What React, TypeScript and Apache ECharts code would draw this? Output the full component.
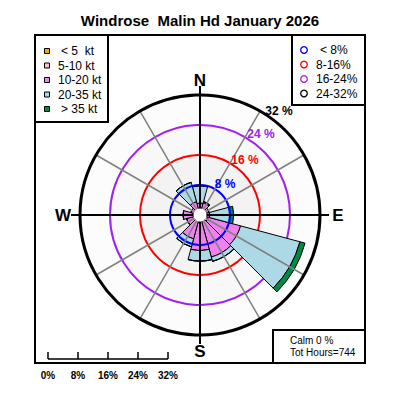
import React, { useEffect, useRef } from "react";
import * as echarts from "echarts";

// 12 direction sectors, centred at 0, 30, ..., 330 degrees
const directions = ["N", "NNE", "ENE", "E", "ESE", "SSE", "S", "SSW", "WSW", "W", "WNW", "NNW"];
const speedClasses = ["< 5  kt", "5-10 kt", "10-20 kt", "20-35 kt", "> 35 kt"];
const speedColors = ["#FFA500", "#FFC0CB", "#EE82EE", "#ADD8E6", "#008B45"];
// frequency (%) per speed class, per direction
const lt5 = [0.2, 0.2, 0.2, 0.3, 0.3, 0.3, 0.3, 0.3, 0.2, 0.3, 0.2, 0.2];
const s5to10 = [1.0, 1.2, 0.9, 0.8, 2.0, 1.5, 1.5, 1.2, 1.0, 1.5, 0.8, 1.0];
const s10to20 = [2.0, 2.0, 1.4, 1.5, 8.9, 9.8, 7.7, 5.1, 2.5, 2.7, 1.5, 2.5];
const s20to35 = [4.6, 0.3, 0.0, 5.4, 16.4, 1.2, 2.8, 2.2, 0.0, 0.0, 0.0, 5.3];
const gt35 = [0.0, 0.0, 0.0, 1.0, 1.4, 0.0, 0.0, 0.0, 0.0, 0.0, 0.0, 0.0];
const classData = [lt5, s5to10, s10to20, s20to35, gt35];

const ringValues = [8, 16, 24, 32];
const ringLabels = ["8 %", "16 %", "24 %", "32 %"];
const ringColors = ["#0000FF", "#FF0000", "#A020F0", "#000000"];
const ringLegend = ["< 8%", "8-16%", "16-24%", "24-32%"];
const scaleLabels = ["0%", "8%", "16%", "24%", "32%"];
const scaleValues = [0, 8, 16, 24, 32];
const compass = ["N", "E", "S", "W"];
const titleText = "Windrose  Malin Hd January 2026";
const calmText = "Calm 0 %";
const hoursText = "Tot Hours=744";

const FONT = "'Liberation Sans', Arial, Helvetica, sans-serif";
const CX = 200;
const CY = 215;
const R = 120;
const MAXV = ringValues[ringValues.length - 1];
const T = "rgba(0,0,0,0)";

export default function App() {
  const ref = useRef<HTMLDivElement>(null);
  useEffect(() => {
    if (!ref.current) return;
    const chart = echarts.init(ref.current, undefined, { renderer: "svg" });
    const pxPerPct = R / MAXV;

    const graphic: any[] = [];
    const txt = (text: string, x: number, y: number, size: number, color = "#000", bold = false, align = "center") => {
      graphic.push({
        type: "text",
        x,
        y,
        z: 110,
        style: {
          text,
          fill: color,
          fontSize: size,
          fontWeight: bold ? "bold" : "normal",
          fontFamily: FONT,
          align,
          verticalAlign: "middle",
        },
      });
    };
    // frame
    graphic.push({ type: "rect", z: 100, shape: { x: 35, y: 35, width: 330, height: 328 }, style: { fill: "none", stroke: "#000", lineWidth: 2 } });
    // title
    txt(titleText, 200, 20, 15, "#000", true);
    // speed legend box
    graphic.push({ type: "rect", z: 100, shape: { x: 35, y: 35, width: 73, height: 87 }, style: { fill: "#fff", stroke: "#000", lineWidth: 2 } });
    speedClasses.forEach((s, i) => {
      const y = 51 + i * 14.5;
      graphic.push({ type: "rect", z: 110, shape: { x: 44.5, y: y - 2.5, width: 5, height: 5 }, style: { fill: speedColors[i], stroke: "#000", lineWidth: 1 } });
      const x = s.startsWith("<") || s.startsWith(">") ? 61 : 58;
      txt(s, x, y, 12, "#000", false, "left");
    });
    // ring legend box
    graphic.push({ type: "rect", z: 100, shape: { x: 292, y: 35, width: 73, height: 70 }, style: { fill: "#fff", stroke: "#000", lineWidth: 2 } });
    ringLegend.forEach((s, i) => {
      const y = 50 + i * 14.5;
      graphic.push({ type: "circle", z: 110, shape: { cx: 304, cy: y, r: 3.3 }, style: { fill: "none", stroke: ringColors[i], lineWidth: 1.3 } });
      txt(s, i === 0 ? 320 : 316, y, 12, "#000", false, "left");
    });
    // calm box
    graphic.push({ type: "rect", z: 100, shape: { x: 273, y: 330, width: 92, height: 33 }, style: { fill: "#fff", stroke: "#000", lineWidth: 2 } });
    txt(calmText, 290, 340, 10, "#000", false, "left");
    txt(hoursText, 290, 352, 10, "#000", false, "left");
    // compass letters
    const offs: Record<string, [number, number]> = { N: [0, -135], E: [138, 0], S: [0, 136], W: [-137, 0] };
    compass.forEach((c) => txt(c, CX + offs[c][0], CY + offs[c][1], 17, "#000", true));
    // ring labels
    const ringPos: [number, number][] = [[25, -31], [45, -55], [61, -81], [79, -104]];
    ringLabels.forEach((l, i) => txt(l, CX + ringPos[i][0], CY + ringPos[i][1], 12, ringColors[i], true));
    // scale bar
    const x0 = 48;
    const yBase = 359;
    graphic.push({ type: "line", z: 110, shape: { x1: x0, y1: yBase, x2: x0 + MAXV * pxPerPct, y2: yBase }, style: { stroke: "#000", lineWidth: 1.5 } });
    scaleValues.forEach((v, i) => {
      const x = x0 + v * pxPerPct;
      graphic.push({ type: "line", z: 110, shape: { x1: x, y1: yBase, x2: x, y2: yBase - 7 }, style: { stroke: "#000", lineWidth: 1.5 } });
      txt(scaleLabels[i], x, 375, 10, "#000", true);
    });
    // center hole
    graphic.push({ type: "circle", z: 100, shape: { cx: CX, cy: CY, r: 6.5 }, style: { fill: "#fff", stroke: "none" } });

    const hidden = { axisLine: { show: false }, axisTick: { show: false }, axisLabel: { show: false } };
    const solid = (color: any, width: number) => ({ show: true, lineStyle: { color, width, type: "solid", opacity: 1 } });

    chart.setOption({
      animation: false,
      backgroundColor: "#fff",
      polar: [
        { center: [CX, CY], radius: R },
        { center: [CX, CY], radius: R },
        { center: [CX, CY], radius: 129 },
        { center: [CX, CY], radius: R },
      ],
      angleAxis: [
        { polarIndex: 0, type: "category", data: directions, startAngle: 105, clockwise: true, boundaryGap: true, ...hidden, splitLine: { show: false }, splitArea: { show: false }, z: 0 },
        {
          polarIndex: 1, type: "value", min: 0, max: 360, interval: 30, startAngle: 90, clockwise: true,
          axisLine: solid("#000", 3), axisTick: { show: false }, axisLabel: { show: false },
          splitLine: solid("#808080", 1.5), z: 5,
        },
        {
          polarIndex: 2, type: "value", min: 0, max: 360, interval: 90, startAngle: 90, clockwise: true, ...hidden,
          splitLine: solid("#000", 2), z: 6,
        },
        {
          polarIndex: 3, type: "value", min: 0, max: 360, startAngle: 90, clockwise: true, ...hidden,
          splitLine: { show: false }, z: 1,
        },
      ],
      radiusAxis: [
        {
          polarIndex: 0, type: "value", min: 0, max: MAXV, interval: 8, ...hidden,
          splitLine: { show: false },
          splitArea: { show: true, areaStyle: { color: ["#ececec", "#f3f3f3", "#f8f8f8", "#fcfcfc"] } },
          z: 0,
        },
        {
          polarIndex: 1, type: "value", min: 0, max: MAXV, interval: 8, ...hidden,
          splitLine: solid([T, ringColors[0], T, T, T], 2),
          z: 5,
        },
        { polarIndex: 2, type: "value", min: 0, max: MAXV, ...hidden, splitLine: { show: false } },
        {
          polarIndex: 3, type: "value", min: 0, max: MAXV, interval: 8, ...hidden,
          splitLine: solid([T, T, ringColors[1], ringColors[2], T], 2),
          z: 1,
        },
      ],
      series: speedClasses.map((name, i) => ({
        type: "bar",
        name,
        coordinateSystem: "polar",
        polarIndex: 0,
        stack: "total",
        data: classData[i],
        barCategoryGap: "0%",
        itemStyle: { color: speedColors[i], borderColor: "#000", borderWidth: 1 },
        z: 2,
      })),
      graphic,
    });
    return () => chart.dispose();
  }, []);
  return <div ref={ref} style={{ position: "fixed", left: 0, top: 0, width: 400, height: 400 }} />;
}
